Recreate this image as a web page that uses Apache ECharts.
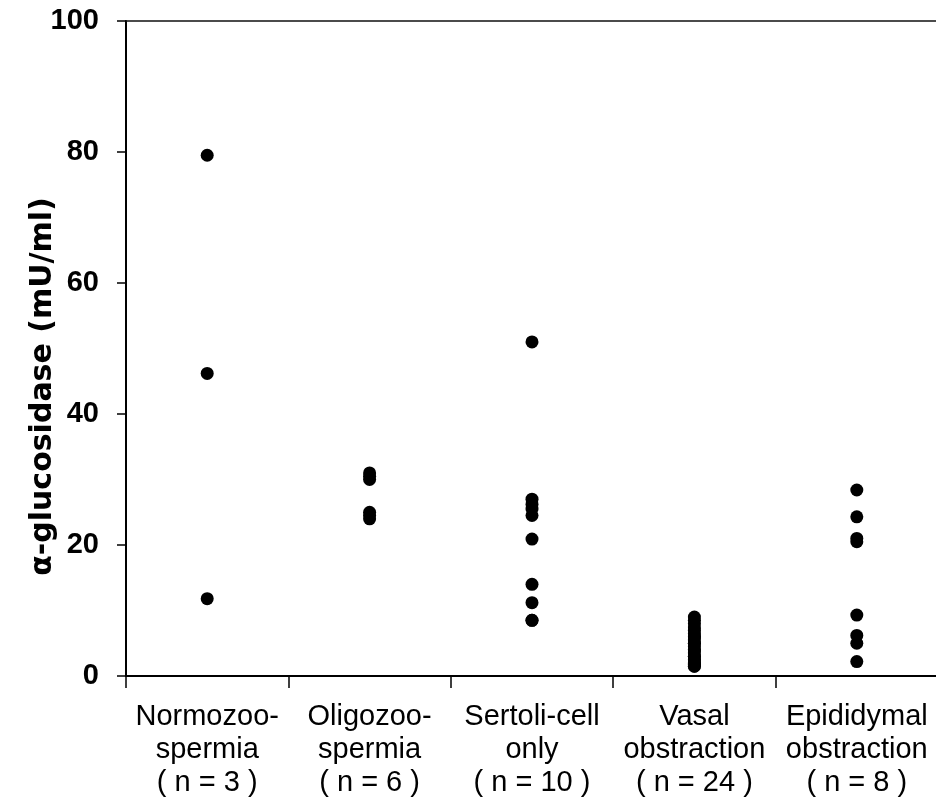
<!DOCTYPE html>
<html>
<head>
<meta charset="utf-8">
<script src="https://cdn.jsdelivr.net/npm/echarts@6/dist/echarts.min.js"></script>
<style>html,body{margin:0;padding:0;background:#fff;}#c{width:936px;height:799px;}</style>
</head>
<body>
<div id="c"></div>
<script>
var categories = [
  "Normozoo-\nspermia\n( n = 3 )",
  "Oligozoo-\nspermia\n( n = 6 )",
  "Sertoli-cell\nonly\n( n = 10 )",
  "Vasal\nobstraction\n( n = 24 )",
  "Epididymal\nobstraction\n( n = 8 )"
];
var normozoospermia = [79.5, 46.2, 11.8];
var oligozoospermia = [31.0, 30.5, 30.0, 25.0, 24.5, 24.0];
var sertoliCellOnly = [51.0, 27.0, 26.2, 25.5, 24.5, 20.9, 14.0, 11.2, 8.5, 8.5];
var vasalObstraction = [9.0, 8.5, 8.0, 7.5, 7.0, 6.5, 6.0, 6.0, 5.5, 5.0, 5.0, 4.5, 4.0, 4.0, 3.5, 3.0, 3.0, 2.5, 2.5, 2.0, 2.0, 1.8, 1.5, 1.5];
var epididymalObstraction = [28.4, 24.3, 21.0, 20.5, 9.3, 6.2, 5.0, 2.2];
var yTicks = [0, 20, 40, 60, 80, 100];

var groups = [normozoospermia, oligozoospermia, sertoliCellOnly, vasalObstraction, epididymalObstraction];
var points = [];
groups.forEach(function (g, i) {
  g.forEach(function (v) { points.push([i, v]); });
});

var chart = echarts.init(document.getElementById('c'), null, {renderer: 'canvas'});
chart.setOption({
  animation: false,
  backgroundColor: '#fff',
  grid: {left: 126, top: 21, width: 812, bottom: 123, containLabel: false, outerBoundsMode: 'none'},
  xAxis: [{
    type: 'category',
    data: categories,
    boundaryGap: true,
    axisLine: {show: true, lineStyle: {color: '#000', width: 2}},
    axisTick: {show: true, length: 12, inside: false, alignWithLabel: false, lineStyle: {color: '#000', width: 1.5}},
    axisLabel: {
      interval: 0, margin: 24, color: '#000',
      fontFamily: 'Liberation Sans', fontSize: 29, lineHeight: 33
    },
    splitLine: {show: false}
  }, {
    type: 'category',
    data: categories,
    position: 'top',
    axisLine: {show: true, lineStyle: {color: '#111', width: 1.5}},
    axisTick: {show: false},
    axisLabel: {show: false}
  }],
  yAxis: {
    type: 'value',
    min: yTicks[0], max: yTicks[yTicks.length - 1], interval: 20,
    name: 'α-glucosidase (mU/ml)',
    nameLocation: 'middle',
    nameGap: 68,
    nameMoveOverlap: false,
    nameTextStyle: {color: '#000', fontFamily: 'DejaVu Sans', fontWeight: 'bold', fontSize: 30, padding: [0, 76, 0, 0]},
    axisLine: {show: true, lineStyle: {color: '#000', width: 2}},
    axisTick: {show: true, length: 9, lineStyle: {color: '#000', width: 1.5}},
    axisLabel: {margin: 27, color: '#000', fontFamily: 'Liberation Sans', fontWeight: 'bold', fontSize: 29},
    splitLine: {show: false}
  },
  series: [{
    type: 'scatter',
    data: points,
    symbol: 'circle',
    symbolSize: 13,
    itemStyle: {color: '#000', opacity: 1}
  }]
});
</script>
</body>
</html>
